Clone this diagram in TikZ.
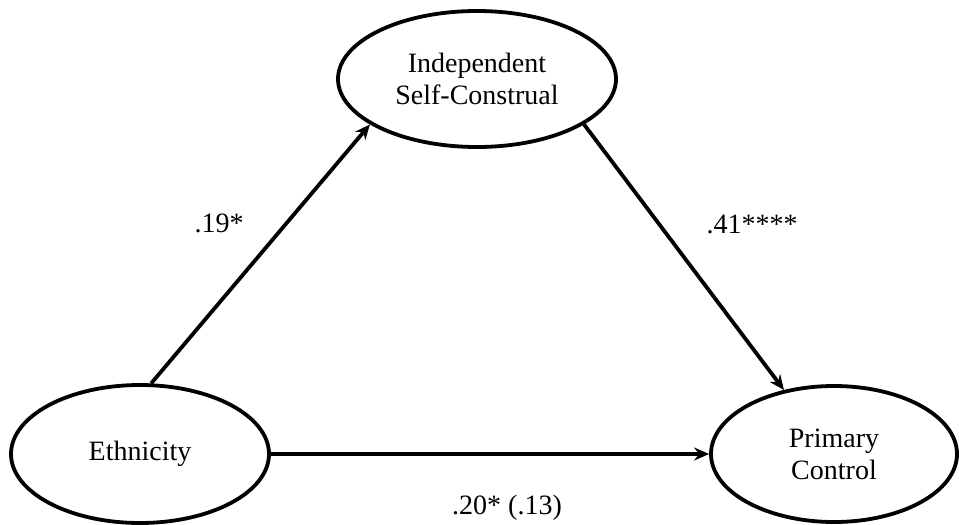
\documentclass[tikz,border=0pt]{standalone}
\usepackage{fontspec}
\setmainfont{Liberation Serif}
\usetikzlibrary{shapes.geometric,arrows.meta}
\begin{document}
\begin{tikzpicture}[x=1pt,y=-1pt,
  latent/.style={ellipse,draw,line width=3.8pt,inner sep=0pt,align=center,
    font=\fontsize{28}{32}\selectfont},
  path/.style={line width=3.8pt,-{Stealth[length=15pt,width=13pt,inset=5pt]}},
  coef/.style={font=\fontsize{28}{32}\selectfont}]
\useasboundingbox (0,0) rectangle (959,525);
\node[latent,minimum width=278pt,minimum height=136pt] (isc) at (477,79) {Independent\\Self-Construal};
\node[latent,minimum width=258pt,minimum height=138pt] (eth) at (140,454) {Ethnicity};
\node[latent,minimum width=246pt,minimum height=136pt] (pc) at (834,454) {Primary\\Control};
\draw[path] (eth.81) -- (isc.203);
\draw[path] (isc.-23) -- (pc.128);
\draw[path] (eth.east) -- (pc.west);
\node[coef] (c1) at (219,223) {.19*};
\node[coef] (c2) at (752,224) {.41****};
\node[coef] (c3) at (507,508) {.20* (.13)};
\end{tikzpicture}
\end{document}
